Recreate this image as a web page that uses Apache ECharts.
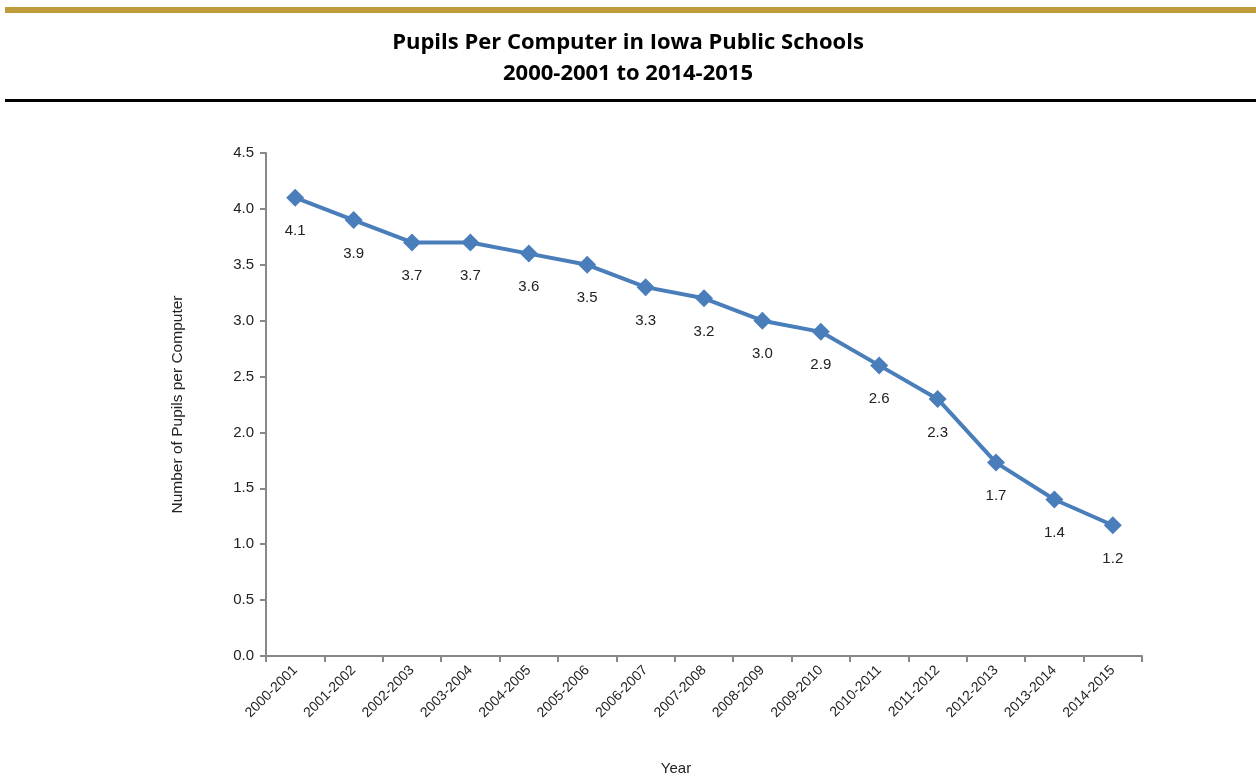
<!DOCTYPE html>
<html><head><meta charset="utf-8">
<script src="https://cdn.jsdelivr.net/npm/echarts@6/dist/echarts.min.js"></script>
<style>html,body{margin:0;padding:0;background:#fff}#c{width:1256px;height:776px}</style>
</head><body><div id="c"></div>
<script>
const categories = ["2000-2001","2001-2002","2002-2003","2003-2004","2004-2005","2005-2006","2006-2007","2007-2008","2008-2009","2009-2010","2010-2011","2011-2012","2012-2013","2013-2014","2014-2015"];
const pupilsPerComputer = [4.1,3.9,3.7,3.7,3.6,3.5,3.3,3.2,3.0,2.9,2.6,2.3,1.73,1.4,1.17];
const yTicks = [0,0.5,1,1.5,2,2.5,3,3.5,4,4.5];

const chart = echarts.init(document.getElementById('c'), null, {renderer:'canvas'});
chart.setOption({
  animation:false,
  backgroundColor:'#fff',
  title:{
    text:'Pupils Per Computer in Iowa Public Schools\n2000-2001 to 2014-2015',
    left:'center', top:22,
    textStyle:{fontFamily:'Open Sans', fontWeight:'bold', fontSize:22, lineHeight:31, color:'#000'}
  },
  graphic:[
    {type:'rect', shape:{x:5,y:7,width:1256,height:6}, style:{fill:'#BF9B3C'}},
    {type:'rect', shape:{x:5,y:99,width:1256,height:3}, style:{fill:'#000'}},
    {type:'text', x:676, y:769, style:{text:'Year', font:'15px "Liberation Sans"', fill:'#222', textAlign:'center', textVerticalAlign:'middle'}}
  ],
  grid:{left:266, right:114, top:153, bottom:120},
  xAxis:{
    type:'category', data:categories, boundaryGap:true,
    axisLine:{lineStyle:{color:'#888', width:2}},
    axisTick:{show:true, alignWithLabel:false, length:6, lineStyle:{color:'#888', width:2}},
    axisLabel:{rotate:45, fontFamily:'Liberation Sans', fontSize:14, color:'#222', margin:12, interval:0}
  },
  yAxis:{
    type:'value', min:0, max:4.5, interval:0.5,
    name:'Number of Pupils per Computer', nameLocation:'middle', nameGap:80,
    nameTextStyle:{fontFamily:'Liberation Sans', fontSize:15.5, color:'#222'},
    axisLine:{show:true, lineStyle:{color:'#888', width:2}},
    axisTick:{show:true, length:6, lineStyle:{color:'#888', width:2}},
    splitLine:{show:false},
    axisLabel:{fontFamily:'Liberation Sans', fontSize:15, color:'#222', margin:12,
      formatter:v=>v.toFixed(1)}
  },
  series:[{
    type:'line', data:pupilsPerComputer,
    symbol:'diamond', symbolSize:18,
    lineStyle:{color:'#4A7EBB', width:4},
    itemStyle:{color:'#4A7EBB'},
    label:{show:true, position:'bottom', distance:17, fontFamily:'Liberation Sans', fontSize:15, color:'#222',
      formatter:p=>p.value.toFixed(1)}
  }]
});
</script></body></html>
